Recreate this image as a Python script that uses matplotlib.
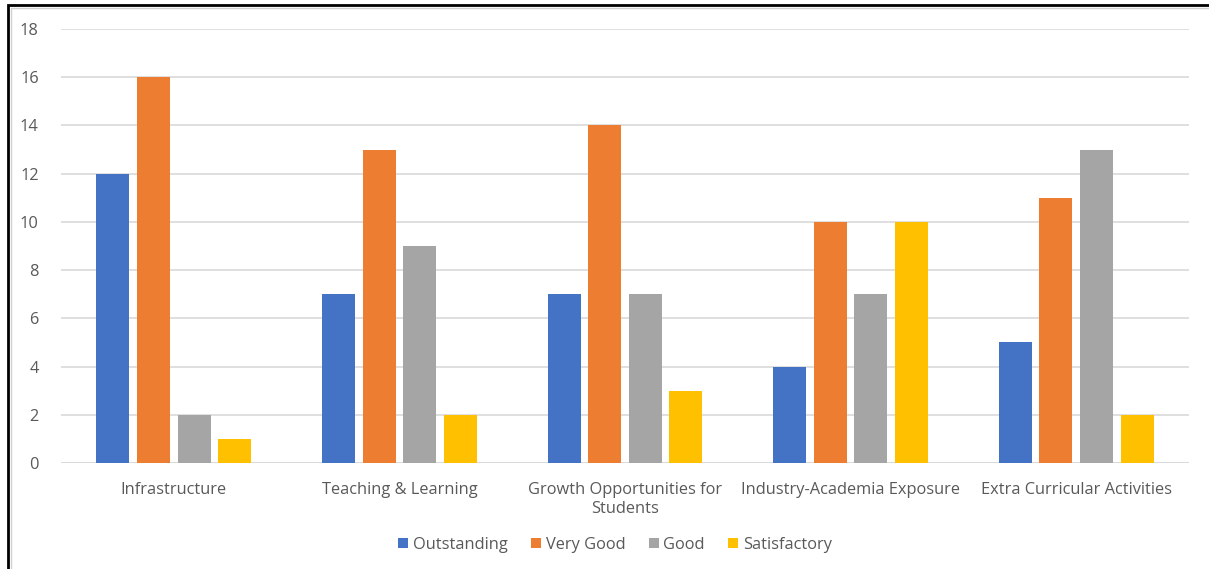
import matplotlib
matplotlib.use("Agg")
import matplotlib.pyplot as plt
import numpy as np
from matplotlib.patches import Rectangle

categories = ["Infrastructure", "Teaching & Learning", "Growth Opportunities for\nStudents",
              "Industry-Academia Exposure", "Extra Curricular Activities"]
series_names = ["Outstanding", "Very Good", "Good", "Satisfactory"]
outstanding = [12, 7, 7, 4, 5]
very_good = [16, 13, 14, 10, 11]
good = [2, 9, 7, 7, 13]
satisfactory = [1, 2, 3, 10, 2]
yticks = [0, 2, 4, 6, 8, 10, 12, 14, 16, 18]

colors = ["#4472C4", "#ED7D31", "#A5A5A5", "#FFC000"]
txt = "#595959"
plt.rcParams['font.family'] = ['Open Sans', 'DejaVu Sans']
fs = 11.8

fig = plt.figure(figsize=(12.09, 5.69), dpi=100)
ax = fig.add_axes([61/1209, 1-463/569, (1189-61)/1209, (463-29)/569])

x = np.arange(len(categories))
width = 0.146
step = 0.18
data = [outstanding, very_good, good, satisfactory]
for i, (vals, name, c) in enumerate(zip(data, series_names, colors)):
    ax.bar(x + (i - 1.5) * step, vals, width, color=c, label=name, zorder=3)

ax.set_xlim(-0.5, len(categories) - 0.5)
ax.set_ylim(0, 18)
ax.set_yticks(yticks)
ax.set_yticklabels([str(v) for v in yticks], fontsize=fs, color=txt)
ax.set_xticks(x)
ax.set_xticklabels(categories, fontsize=fs, color=txt, linespacing=1.2)
ax.tick_params(axis='both', length=0)
ax.tick_params(axis='y', pad=16)
ax.tick_params(axis='x', pad=14)
ax.grid(axis='y', color='#d9d9d9', linewidth=1.2, zorder=0)
for s in ax.spines.values():
    s.set_visible(False)
ax.axhline(0, color='#d9d9d9', linewidth=1.2, zorder=1)

leg = fig.legend(loc='center', bbox_to_anchor=(615/1209, 1-545/569), ncol=4, frameon=False,
                 fontsize=fs, handlelength=0.6, handleheight=0.6, handletextpad=0.3,
                 columnspacing=1.43)
for t in leg.get_texts():
    t.set_color(txt)

# outer frame
fig.patches.append(Rectangle((8/1209, -0.05), 1.1, 1 - 5/569 + 0.05, transform=fig.transFigure,
                             fill=False, edgecolor='black', linewidth=2))
fig.patches.append(Rectangle((11/1209, -0.05), 1.1, 1 - 8/569 + 0.05, transform=fig.transFigure,
                             fill=False, edgecolor='#d0d0d0', linewidth=1))

fig.savefig("out.png", dpi=100)
